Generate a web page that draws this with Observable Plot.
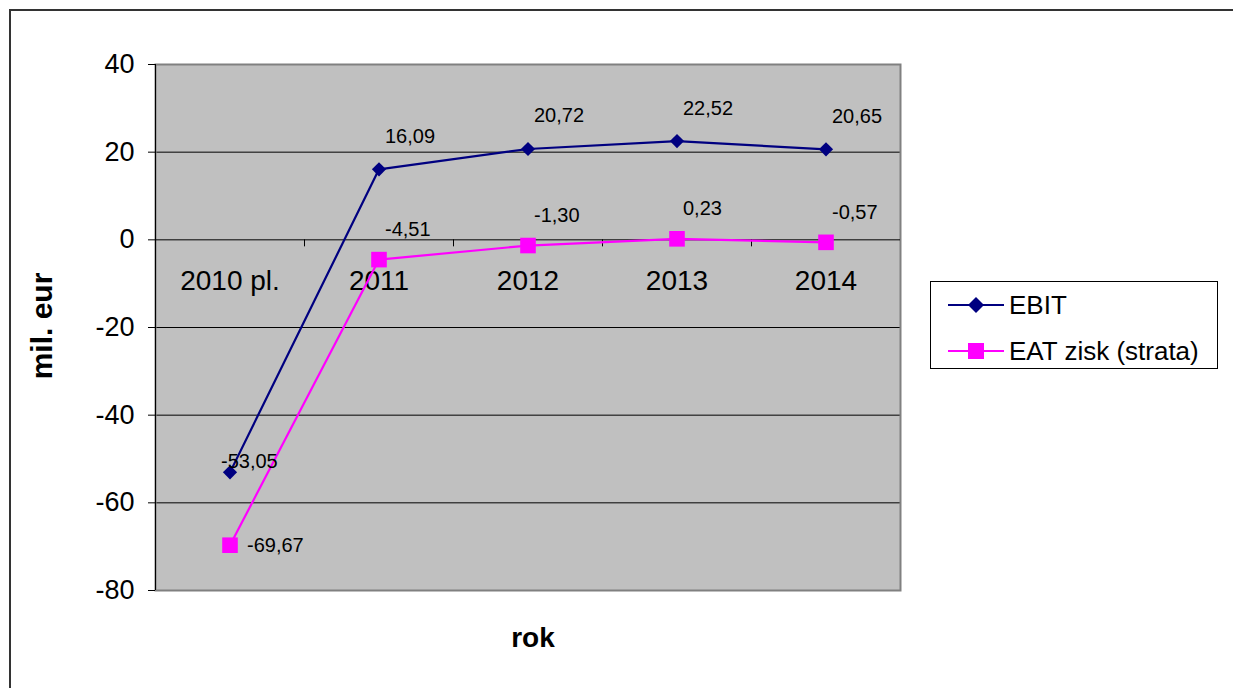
<!DOCTYPE html>
<html>
<head>
<meta charset="utf-8">
<script src="https://cdn.jsdelivr.net/npm/d3@7"></script>
<script src="https://cdn.jsdelivr.net/npm/@observablehq/plot@0.6"></script>
<style>
  body { margin: 0; background: #fff; font-family: "Liberation Sans", Arial, sans-serif; }
  #wrap { position: relative; width: 1233px; height: 688px; overflow: hidden; }
  #outer { position: absolute; left: 9px; top: 9px; width: 1222px; height: 720px; border-top: 2px solid #333; border-left: 2px solid #333; }
  #chart { position: absolute; left: 0; top: 0; }
  .atitle { position: absolute; font-weight: bold; color: #000; white-space: nowrap; }
  #legend { position: absolute; left: 930px; top: 281px; width: 286px; height: 86px; border: 1px solid #000; background: #fff; }
  .lrow { position: absolute; left: 0; height: 30px; display: flex; align-items: center; font-size: 26px; }
</style>
</head>
<body>
<div id="wrap">
  <div id="outer"></div>
  <div id="chart"></div>
  <div class="atitle" style="left:42px; top:326px; font-size:30px; transform: translate(-50%,-50%) rotate(-90deg);">mil. eur</div>
  <div class="atitle" style="left:533px; top:638px; font-size:28px; transform: translate(-50%,-50%);">rok</div>
  <div id="legend"></div>
</div>
<script>
const categories = ["2010 pl.", "2011", "2012", "2013", "2014"];
const ebit = [-53.05, 16.09, 20.72, 22.52, 20.65];
const eat = [-69.67, -4.51, -1.30, 0.23, -0.57];
const yTicks = [-80, -60, -40, -20, 0, 20, 40];
const seriesNames = ["EBIT", "EAT zisk (strata)"];
const seriesColors = ["#000080", "#FF00FF"];

const fmt = v => v.toFixed(2).replace(".", ",");
const ebitData = ebit.map((v, i) => ({i, v}));
const eatData = eat.map((v, i) => ({i, v}));
const boundaries = d3.range(1, categories.length).map(k => k - 0.5);
const font = "Liberation Sans, Arial, sans-serif";

const chart = Plot.plot({
  width: 1233,
  height: 688,
  marginLeft: 155,
  marginRight: 333,
  marginTop: 64,
  marginBottom: 98,
  style: {fontFamily: font, background: "transparent", color: "#000"},
  x: {type: "linear", domain: [-0.5, categories.length - 0.5], axis: null},
  y: {domain: [-80, 40], axis: null},
  marks: [
    Plot.frame({fill: "#C0C0C0", stroke: null}),
    Plot.ruleY(yTicks.filter(t => t !== 0 && t !== -80 && t !== 40), {stroke: "#000", strokeWidth: 1}),
    Plot.frame({stroke: "#808080", strokeWidth: 2, fill: null}),
    Plot.ruleX([-0.5], {stroke: "#000", strokeWidth: 1}),
    Plot.ruleY([0], {stroke: "#000", strokeWidth: 1}),
    Plot.ruleX(boundaries, {x: d => d, y1: 0, y2: -1.6, stroke: "#000"}),
    Plot.axisY({ticks: yTicks, tickSize: 7, tickPadding: 14, fontSize: 27, tickFormat: d => String(d), label: null, stroke: "#000"}),
    Plot.text(categories, {x: (d, i) => i, y: () => 0, text: d => d, dy: 41, fontSize: 28, fill: "#000"}),
    Plot.line(ebitData, {x: "i", y: "v", stroke: seriesColors[0], strokeWidth: 2.2}),
    Plot.dot(ebitData, {x: "i", y: "v", symbol: "diamond2", r: 6.4, fill: seriesColors[0], stroke: null}),
    Plot.line(eatData, {x: "i", y: "v", stroke: seriesColors[1], strokeWidth: 2.2}),
    Plot.dot(eatData, {x: "i", y: "v", symbol: "square", r: 8.8, fill: seriesColors[1], stroke: null}),
    Plot.text(ebitData.filter(d => d.i > 0), {x: "i", y: "v", text: d => fmt(d.v), textAnchor: "start", dx: 6, dy: -33, fontSize: 20, fill: "#000"}),
    Plot.text(ebitData.filter(d => d.i === 0), {x: "i", y: "v", text: d => fmt(d.v), textAnchor: "start", dx: -9, dy: -11, fontSize: 20, fill: "#000"}),
    Plot.text(eatData.filter(d => d.i > 0), {x: "i", y: "v", text: d => fmt(d.v), textAnchor: "start", dx: 6, dy: -30, fontSize: 20, fill: "#000"}),
    Plot.text(eatData.filter(d => d.i === 0), {x: "i", y: "v", text: d => fmt(d.v), textAnchor: "start", dx: 17, dy: 0, fontSize: 20, fill: "#000"})
  ]
});
document.getElementById("chart").appendChild(chart);

// Legend
const legend = document.getElementById("legend");
seriesNames.forEach((name, k) => {
  const row = document.createElement("div");
  row.className = "lrow";
  row.style.top = (k === 0 ? 8 : 54) + "px";
  const sw = k === 0
    ? `<svg width="58" height="30" style="margin-left:17px"><line x1="0" x2="56" y1="15" y2="15" stroke="${seriesColors[k]}" stroke-width="2"/><path d="M28,7 L36,15 L28,23 L20,15 Z" fill="${seriesColors[k]}"/></svg>`
    : `<svg width="58" height="30" style="margin-left:17px"><line x1="0" x2="56" y1="15" y2="15" stroke="${seriesColors[k]}" stroke-width="2"/><rect x="20" y="7" width="16" height="16" fill="${seriesColors[k]}"/></svg>`;
  row.innerHTML = sw + `<span style="margin-left:3px">${name}</span>`;
  legend.appendChild(row);
});
</script>
</body>
</html>
